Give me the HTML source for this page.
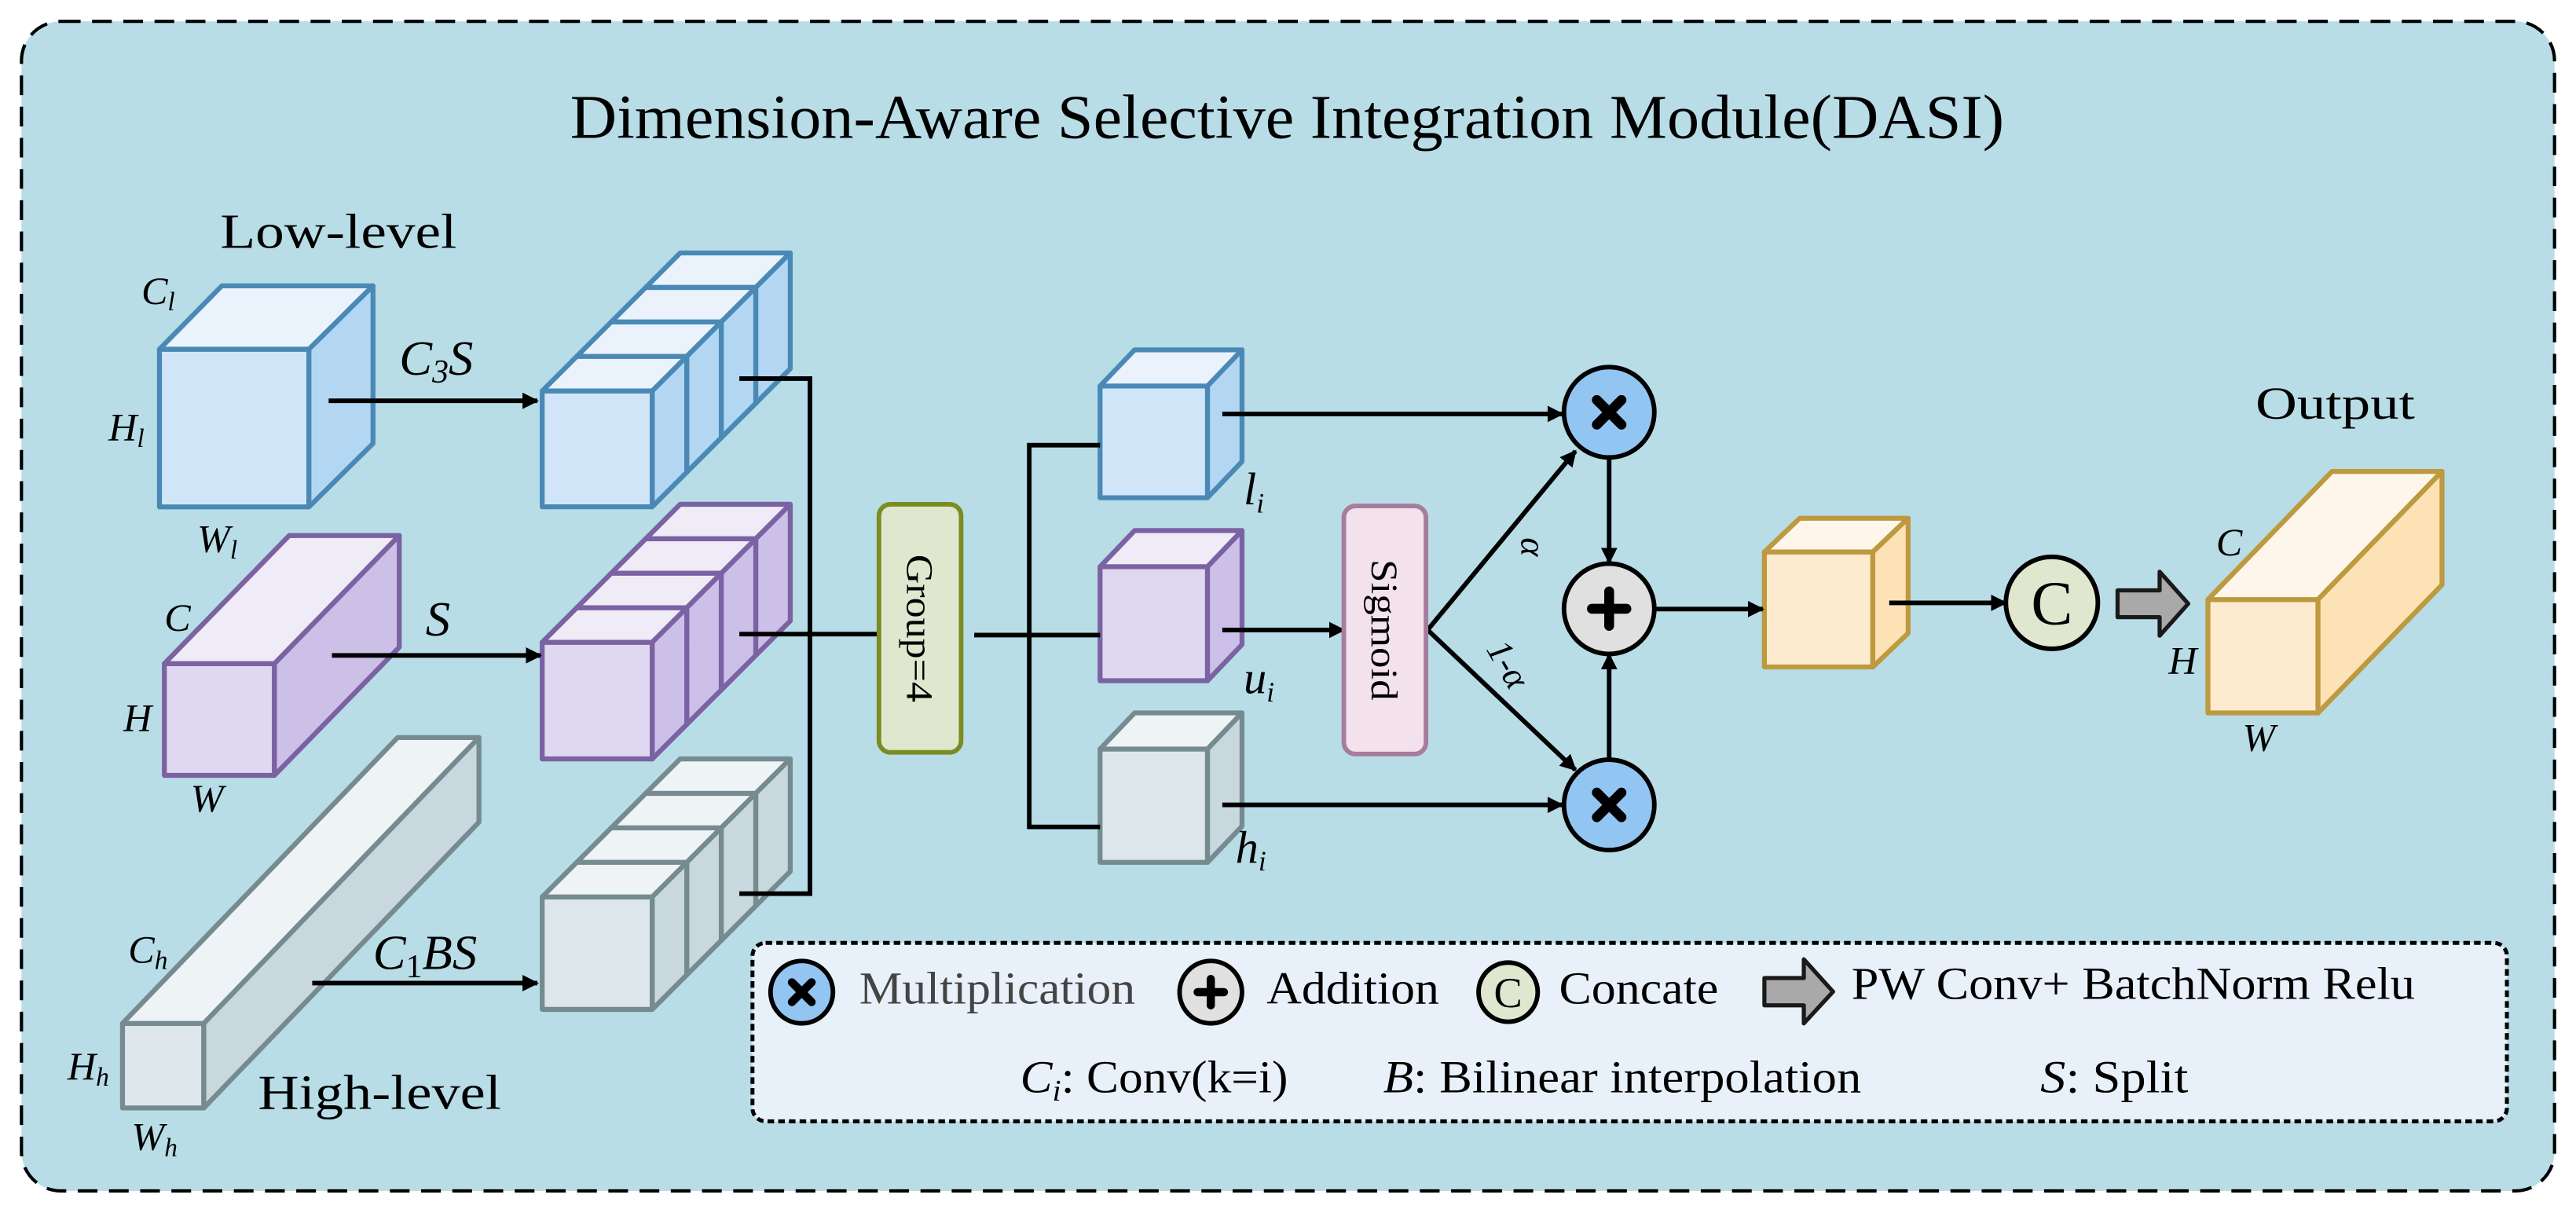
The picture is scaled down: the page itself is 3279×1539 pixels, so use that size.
<!DOCTYPE html>
<html><head><meta charset="utf-8"><style>
html,body{margin:0;padding:0;background:#fff;}
svg{display:block;}
svg, svg text{font-family:"Liberation Serif","Times New Roman",Times,serif;}
</style></head><body>
<svg width="3279" height="1539" viewBox="0 0 1568 736" xmlns="http://www.w3.org/2000/svg" font-family="Liberation Serif, Times New Roman, serif">
<defs>
<marker id="ah" markerWidth="10" markerHeight="10" refX="9" refY="5" orient="auto" markerUnits="userSpaceOnUse" viewBox="0 0 10 10">
<path d="M0,0 L10,5 L0,10 z" fill="#000"/>
</marker>
</defs>
<rect x="0" y="0" width="1568" height="736" fill="#fff"/>
<rect x="13" y="13" width="1542" height="712" rx="24" fill="#b8dde7" stroke="#000" stroke-width="2" stroke-dasharray="12,7"/>
<text x="347" y="84" font-size="38" textLength="873" lengthAdjust="spacingAndGlyphs">Dimension-Aware Selective Integration Module(DASI)</text>
<text x="134" y="151" font-size="30" textLength="144" lengthAdjust="spacingAndGlyphs">Low-level</text>
<text x="157" y="675" font-size="30" textLength="148" lengthAdjust="spacingAndGlyphs">High-level</text>
<text x="1373" y="255" font-size="28" textLength="97" lengthAdjust="spacingAndGlyphs">Output</text>

<g stroke-width="3" stroke-linejoin="round">
<g stroke="#4a89b5">
<rect x="97" y="212.6" width="91" height="96" fill="#d0e6f8"/>
<polygon points="97,212.6 135,174 227,174 188,212.6" fill="#eaf3fc"/>
<polygon points="188,212.6 227,174 227,270 188,308.6" fill="#b3d7f2"/>
</g>
<g stroke="#7b62a3">
<rect x="100" y="404" width="67" height="68" fill="#dfd8f0"/>
<polygon points="100,404 176,326 243,326 167,404" fill="#efebf7"/>
<polygon points="167,404 243,326 243,394 167,472" fill="#cdc0e8"/>
</g>
<g stroke="#768b90">
<rect x="74.5" y="623" width="49.5" height="51.5" fill="#dde6ea"/>
<polygon points="74.5,623 242,449 291.5,449 124,623" fill="#eef3f6"/>
<polygon points="124,623 291.5,449 291.5,500.5 124,674.5" fill="#c9d8de"/>
</g>

<g stroke="#4a89b5">
<g transform="translate(63,-63)"><rect x="330" y="238" width="67" height="70.5" fill="#d0e6f8"/><polygon points="330,238 351,217 418,217 397,238" fill="#eaf3fc"/><polygon points="397,238 418,217 418,287.5 397,308.5" fill="#b3d7f2"/></g>
<g transform="translate(42,-42)"><rect x="330" y="238" width="67" height="70.5" fill="#d0e6f8"/><polygon points="330,238 351,217 418,217 397,238" fill="#eaf3fc"/><polygon points="397,238 418,217 418,287.5 397,308.5" fill="#b3d7f2"/></g>
<g transform="translate(21,-21)"><rect x="330" y="238" width="67" height="70.5" fill="#d0e6f8"/><polygon points="330,238 351,217 418,217 397,238" fill="#eaf3fc"/><polygon points="397,238 418,217 418,287.5 397,308.5" fill="#b3d7f2"/></g>
<g><rect x="330" y="238" width="67" height="70.5" fill="#d0e6f8"/><polygon points="330,238 351,217 418,217 397,238" fill="#eaf3fc"/><polygon points="397,238 418,217 418,287.5 397,308.5" fill="#b3d7f2"/></g>
</g>
<g stroke="#7b62a3">
<g transform="translate(63,-63)"><rect x="330" y="391" width="67" height="71" fill="#dfd8f0"/><polygon points="330,391 351,370 418,370 397,391" fill="#efebf7"/><polygon points="397,391 418,370 418,441 397,462" fill="#cdc0e8"/></g>
<g transform="translate(42,-42)"><rect x="330" y="391" width="67" height="71" fill="#dfd8f0"/><polygon points="330,391 351,370 418,370 397,391" fill="#efebf7"/><polygon points="397,391 418,370 418,441 397,462" fill="#cdc0e8"/></g>
<g transform="translate(21,-21)"><rect x="330" y="391" width="67" height="71" fill="#dfd8f0"/><polygon points="330,391 351,370 418,370 397,391" fill="#efebf7"/><polygon points="397,391 418,370 418,441 397,462" fill="#cdc0e8"/></g>
<g><rect x="330" y="391" width="67" height="71" fill="#dfd8f0"/><polygon points="330,391 351,370 418,370 397,391" fill="#efebf7"/><polygon points="397,391 418,370 418,441 397,462" fill="#cdc0e8"/></g>
</g>
<g stroke="#768b90">
<g transform="translate(63,-63)"><rect x="330" y="546" width="67" height="68.5" fill="#dde6ea"/><polygon points="330,546 351,525 418,525 397,546" fill="#eef3f6"/><polygon points="397,546 418,525 418,593.5 397,614.5" fill="#c9d8de"/></g>
<g transform="translate(42,-42)"><rect x="330" y="546" width="67" height="68.5" fill="#dde6ea"/><polygon points="330,546 351,525 418,525 397,546" fill="#eef3f6"/><polygon points="397,546 418,525 418,593.5 397,614.5" fill="#c9d8de"/></g>
<g transform="translate(21,-21)"><rect x="330" y="546" width="67" height="68.5" fill="#dde6ea"/><polygon points="330,546 351,525 418,525 397,546" fill="#eef3f6"/><polygon points="397,546 418,525 418,593.5 397,614.5" fill="#c9d8de"/></g>
<g><rect x="330" y="546" width="67" height="68.5" fill="#dde6ea"/><polygon points="330,546 351,525 418,525 397,546" fill="#eef3f6"/><polygon points="397,546 418,525 418,593.5 397,614.5" fill="#c9d8de"/></g>
</g>

<g stroke="#4a89b5">
<rect x="669.6" y="235" width="65.4" height="68" fill="#d0e6f8"/>
<polygon points="669.6,235 690.6,213 756,213 735,235" fill="#eaf3fc"/>
<polygon points="735,235 756,213 756,281 735,303" fill="#b3d7f2"/>
</g>
<g stroke="#7b62a3">
<rect x="669.6" y="345" width="65.4" height="69.4" fill="#dfd8f0"/>
<polygon points="669.6,345 690.6,323 756,323 735,345" fill="#efebf7"/>
<polygon points="735,345 756,323 756,392.4 735,414.4" fill="#cdc0e8"/>
</g>
<g stroke="#768b90">
<rect x="669.6" y="456" width="65.4" height="69" fill="#dde6ea"/>
<polygon points="669.6,456 690.6,434 756,434 735,456" fill="#eef3f6"/>
<polygon points="735,456 756,434 756,503 735,525" fill="#c9d8de"/>
</g>
<g stroke="#bd993f">
<rect x="1074" y="336" width="66" height="70" fill="#fdebd0"/>
<polygon points="1074,336 1095.5,315.5 1161.5,315.5 1140,336" fill="#fff6eb"/>
<polygon points="1140,336 1161.5,315.5 1161.5,385.5 1140,406" fill="#fde2b5"/>
<rect x="1344" y="365" width="67" height="69" fill="#fdebd0"/>
<polygon points="1344,365 1419.5,287 1486.5,287 1411,365" fill="#fff6eb"/>
<polygon points="1411,365 1486.5,287 1486.5,356 1411,434" fill="#fde2b5"/>
</g>
</g>

<g stroke="#000" stroke-width="2.8" fill="none">
<line x1="200" y1="244" x2="327" y2="244" marker-end="url(#ah)"/>
<line x1="202" y1="399" x2="329" y2="399" marker-end="url(#ah)"/>
<line x1="190" y1="598.5" x2="327" y2="598.5" marker-end="url(#ah)"/>
<polyline points="450,230.5 493,230.5 493,544 450,544"/>
<line x1="450" y1="386" x2="536" y2="386"/>
<line x1="593" y1="386.6" x2="669.6" y2="386.6"/>
<polyline points="669.6,271 626.5,271 626.5,503.4 669.6,503.4"/>
<line x1="744" y1="252" x2="951" y2="252" marker-end="url(#ah)"/>
<line x1="744" y1="383.5" x2="818" y2="383.5" marker-end="url(#ah)"/>
<line x1="744" y1="490" x2="951" y2="490" marker-end="url(#ah)"/>
<line x1="869" y1="383.5" x2="959" y2="274.6" marker-end="url(#ah)"/>
<line x1="869" y1="383.5" x2="959" y2="468.7" marker-end="url(#ah)"/>
<line x1="979.5" y1="279" x2="979.5" y2="342.5" marker-end="url(#ah)"/>
<line x1="979.5" y1="462" x2="979.5" y2="398.5" marker-end="url(#ah)"/>
<line x1="1007" y1="370.8" x2="1073" y2="370.8" marker-end="url(#ah)"/>
<line x1="1150" y1="367" x2="1221" y2="367" marker-end="url(#ah)"/>
</g>

<rect x="535" y="307" width="50" height="151" rx="7" fill="#dfe8cf" stroke="#7a8c22" stroke-width="2.8"/>
<text transform="translate(560,382.5) rotate(90)" text-anchor="middle" y="8" font-size="23" textLength="90" lengthAdjust="spacingAndGlyphs">Group=4</text>
<rect x="818" y="308" width="50" height="151" rx="7" fill="#f3e1ec" stroke="#a67d9b" stroke-width="2.8"/>
<text transform="translate(843,383.5) rotate(90)" text-anchor="middle" y="8" font-size="23" textLength="86" lengthAdjust="spacingAndGlyphs">Sigmoid</text>

<g stroke="#000" stroke-width="2.8">
<circle cx="979.5" cy="251" r="27.5" fill="#92c5f2"/>
<circle cx="979.5" cy="370.6" r="27.5" fill="#e0e0e0"/>
<circle cx="979.5" cy="490" r="27.5" fill="#92c5f2"/>
<circle cx="1249" cy="367" r="28" fill="#dfe8cf"/>
</g>
<g stroke="#000" stroke-width="6" stroke-linecap="round">
<line x1="972" y1="243.5" x2="987" y2="258.5"/><line x1="987" y1="243.5" x2="972" y2="258.5"/>
<line x1="972" y1="482.5" x2="987" y2="497.5"/><line x1="987" y1="482.5" x2="972" y2="497.5"/>
<line x1="969" y1="370.6" x2="990" y2="370.6"/><line x1="979.5" y1="360" x2="979.5" y2="381"/>
</g>
<text x="1249" y="380" text-anchor="middle" font-size="38">C</text>
<polygon points="1289,359.4 1314.6,359.4 1314.6,348 1332,367.5 1314.6,387 1314.6,375.7 1289,375.7" fill="#a9a9a9" stroke="#1a1a1a" stroke-width="2.5" stroke-linejoin="round"/>

<g font-style="italic" font-size="24">
<text x="86" y="185">C<tspan font-size="16" dy="4">l</tspan></text>
<text x="66" y="268">H<tspan font-size="16" dy="4">l</tspan></text>
<text x="120" y="336">W<tspan font-size="16" dy="4">l</tspan></text>
<text x="100" y="384">C</text>
<text x="75" y="445">H</text>
<text x="116" y="494">W</text>
<text x="78" y="586">C<tspan font-size="16" dy="4">h</tspan></text>
<text x="41" y="657">H<tspan font-size="16" dy="4">h</tspan></text>
<text x="80" y="700">W<tspan font-size="16" dy="4">h</tspan></text>
<text x="243" y="228" font-size="30">C<tspan font-size="20" dy="5">3</tspan><tspan dy="-5">S</tspan></text>
<text x="259" y="387" font-size="30">S</text>
<text x="227" y="590" font-size="30">C<tspan font-size="20" dy="5" font-style="normal">1</tspan><tspan dy="-5">BS</tspan></text>
<text x="757" y="307" font-size="28">l<tspan font-size="17" dy="5">i</tspan></text>
<text x="757" y="422" font-size="28">u<tspan font-size="17" dy="5">i</tspan></text>
<text x="752" y="525" font-size="28">h<tspan font-size="17" dy="5">i</tspan></text>
<text transform="translate(932,333) rotate(90)" text-anchor="middle" y="6" font-size="22">α</text>
<text transform="translate(917,405) rotate(60)" text-anchor="middle" y="6" font-size="22">1-α</text>
<text x="1349" y="338">C</text>
<text x="1320" y="410">H</text>
<text x="1365" y="457">W</text>
</g>

<rect x="458" y="574" width="1068" height="108.6" rx="8" fill="#e8f1fa" stroke="#000" stroke-width="2.4" stroke-dasharray="4,2.5"/>
<g stroke="#000" stroke-width="2.8">
<circle cx="488" cy="604" r="19" fill="#92c5f2"/>
<circle cx="737" cy="604" r="19" fill="#e0e0e0"/>
<circle cx="918" cy="604" r="18" fill="#dfe8cf"/>
</g>
<g stroke="#000" stroke-width="5" stroke-linecap="round">
<line x1="482" y1="598" x2="494" y2="610"/><line x1="494" y1="598" x2="482" y2="610"/>
<line x1="729" y1="604" x2="745" y2="604"/><line x1="737" y1="596" x2="737" y2="612"/>
</g>
<text x="918" y="613" text-anchor="middle" font-size="26">C</text>
<polygon points="1074,595.4 1098,595.4 1098,584 1115.8,603.7 1098,623 1098,612 1074,612" fill="#a9a9a9" stroke="#1a1a1a" stroke-width="2.5" stroke-linejoin="round"/>
<g font-size="28">
<text x="523" y="611" fill="#444" textLength="168" lengthAdjust="spacingAndGlyphs">Multiplication</text>
<text x="771" y="611" textLength="105" lengthAdjust="spacingAndGlyphs">Addition</text>
<text x="949" y="611" textLength="97" lengthAdjust="spacingAndGlyphs">Concate</text>
<text x="1127" y="608" textLength="343" lengthAdjust="spacingAndGlyphs">PW Conv+ BatchNorm Relu</text>
<text x="621" y="665" textLength="163" lengthAdjust="spacingAndGlyphs"><tspan font-style="italic">C</tspan><tspan font-style="italic" font-size="18" dy="5">i</tspan><tspan dy="-5">: Conv(k=i)</tspan></text>
<text x="842" y="665" textLength="291" lengthAdjust="spacingAndGlyphs"><tspan font-style="italic">B</tspan>: Bilinear interpolation</text>
<text x="1242" y="665" textLength="90" lengthAdjust="spacingAndGlyphs"><tspan font-style="italic">S</tspan>: Split</text>
</g>
</svg>
</body></html>
